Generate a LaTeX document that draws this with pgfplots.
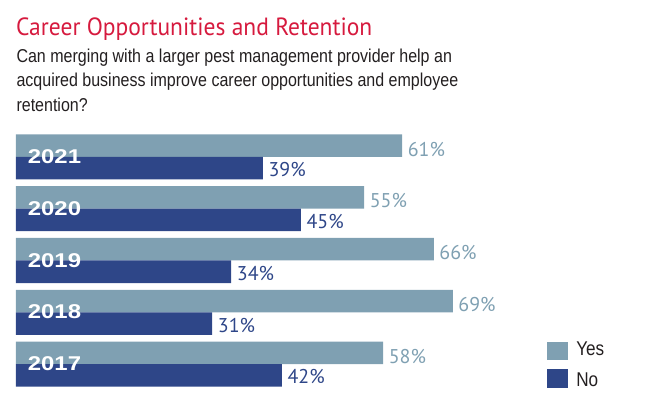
\documentclass[border=0pt]{standalone}
\usepackage{pgfplots}
\pgfplotsset{compat=1.18}
\usepackage{fontspec}
\setmainfont{Liberation Sans}
\newfontfamily\titlefont[FakeStretch=0.944]{PT Sans}
\newfontfamily\labelfont{PT Sans}
\newfontfamily\subfont[FakeStretch=0.86]{Liberation Sans}
\newfontfamily\yearfont[FakeStretch=1.2]{Liberation Sans}
\definecolor{yescol}{RGB}{127,160,178}
\definecolor{nocol}{RGB}{46,70,136}
\definecolor{titlered}{RGB}{214,26,62}
\definecolor{textblack}{RGB}{35,31,32}
\begin{document}
\begin{tikzpicture}
\begin{axis}[
  scale only axis, width=648bp, height=399bp,
  xmin=-2.5276, xmax=99.842, ymin=-0.6763, ymax=7.0338,
  hide axis, clip=false,
  xbar, bar width=22.5bp,
  point meta=x,
  nodes near coords={\pgfmathprintnumber[assume math mode=true]{\pgfplotspointmeta}\%},
  legend style={draw=none, fill=none, inner sep=0pt, outer sep=0pt,
    at={(0.8446,0.1479)}, anchor=north west,
    column sep=6.6bp, row sep=9bp,
    cells={anchor=base west, inner sep=0pt},
    font=\subfont\fontsize{20}{24}\selectfont, text=textblack},
]
\addplot[fill=yescol, draw=none, bar shift=11.25bp,
  every node near coord/.append style={text=yescol, anchor=base west, inner sep=0pt,
    xshift=5.5bp, yshift=-10.5bp, font=\labelfont\fontsize{20}{24}\selectfont},
  legend image code/.code={\fill[yescol] (0bp,-4.7bp) rectangle (20.4bp,13.6bp);}]
  coordinates {(58,0) (69,1) (66,2) (55,3) (61,4)};
\addlegendentry{Yes}
\addplot[fill=nocol, draw=none, bar shift=-11.25bp,
  every node near coord/.append style={text=nocol, anchor=base west, inner sep=0pt,
    xshift=5.5bp, yshift=-8.5bp, font=\labelfont\fontsize{20}{24}\selectfont},
  legend image code/.code={\fill[nocol] (0bp,-1.7bp) rectangle (20.4bp,17.3bp);}]
  coordinates {(42,0) (31,1) (34,2) (45,3) (39,4)};
\addlegendentry{No}
\path (rel axis cs:0,0) rectangle (rel axis cs:1,1);
\node[anchor=base west, inner sep=0pt, text=titlered, font=\titlefont\fontsize{25}{30}\selectfont] at (axis cs:0,6.344) {Career Opportunities and Retention};
\node[anchor=base west, inner sep=0pt, text=textblack, font=\subfont\fontsize{18.7}{22}\selectfont] at (axis cs:0.05,5.822) {Can merging with a larger pest management provider help an};
\node[anchor=base west, inner sep=0pt, text=textblack, font=\subfont\fontsize{18.7}{22}\selectfont] at (axis cs:0.05,5.353) {acquired business improve career opportunities and employee};
\node[anchor=base west, inner sep=0pt, text=textblack, font=\subfont\fontsize{18.7}{22}\selectfont] at (axis cs:0.05,4.885) {retention?};
\node[anchor=base west, inner sep=0pt, text=white, font=\yearfont\bfseries\fontsize{20}{24}\selectfont] at (axis cs:1.85,3.874) {2021};
\node[anchor=base west, inner sep=0pt, text=white, font=\yearfont\bfseries\fontsize{20}{24}\selectfont] at (axis cs:1.85,2.874) {2020};
\node[anchor=base west, inner sep=0pt, text=white, font=\yearfont\bfseries\fontsize{20}{24}\selectfont] at (axis cs:1.85,1.874) {2019};
\node[anchor=base west, inner sep=0pt, text=white, font=\yearfont\bfseries\fontsize{20}{24}\selectfont] at (axis cs:1.85,0.874) {2018};
\node[anchor=base west, inner sep=0pt, text=white, font=\yearfont\bfseries\fontsize{20}{24}\selectfont] at (axis cs:1.85,-0.126) {2017};
\end{axis}
\end{tikzpicture}
\end{document}
